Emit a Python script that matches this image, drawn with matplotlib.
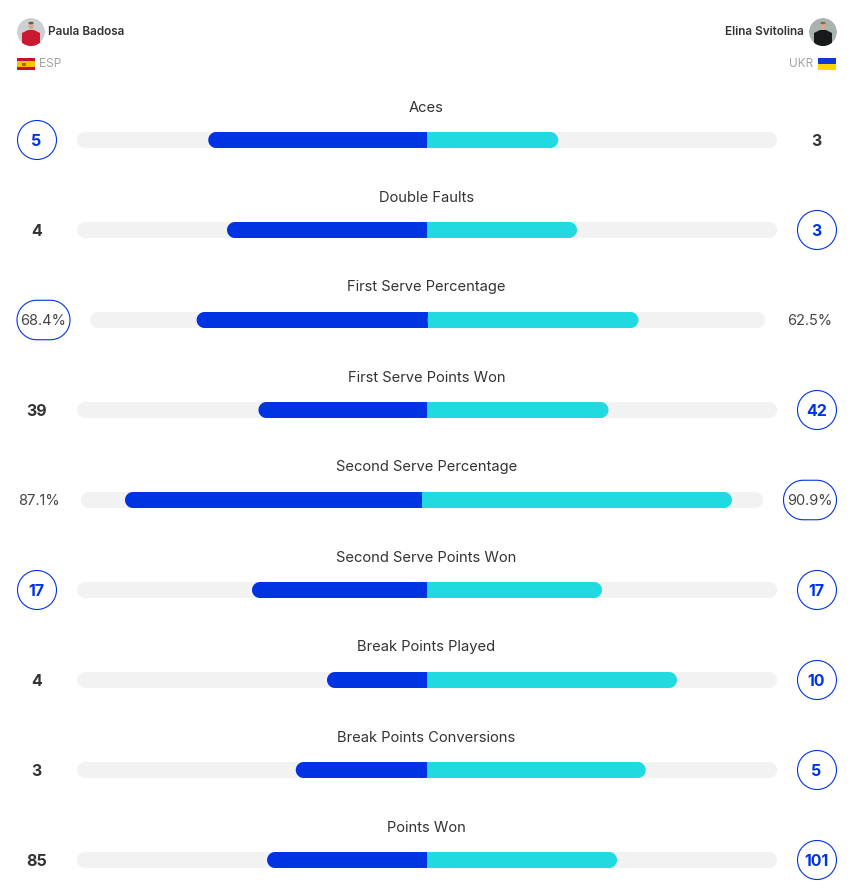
from matplotlib import pyplot as plt
from matplotlib.patches import Circle, Rectangle, Polygon, Ellipse
import numpy as np

plt.rcParams['font.family'] = ['Inter', 'DejaVu Sans']

# Chart values
stat_names = ['Aces', 'Double Faults', 'First Serve Percentage', 'First Serve Points Won',
              'Second Serve Percentage', 'Second Serve Points Won', 'Break Points Played',
              'Break Points Conversions', 'Points Won']
left_values = [5, 4, 68.4, 39, 87.1, 17, 4, 3, 85]
right_values = [3, 3, 62.5, 42, 90.9, 17, 10, 5, 101]
is_percent = [False, False, True, False, True, False, False, False, False]
left_circled = [True, False, True, False, False, True, False, False, False]
right_circled = [False, True, False, True, True, True, True, True, True]

# Layout in pixels
BLUE = '#0033E3'
CYAN = '#21DAE1'
TRACK = '#F2F2F2'
DARK = '#333333'
GREY = '#A3A3A3'
track_left = [77, 77, 90, 77, 81, 77, 77, 77, 77]
track_right = [777, 777, 765, 777, 763, 777, 777, 777, 777]
row_y = [140 + 90 * i for i in range(len(stat_names))]
BAR_H = 16
PX = 72 / 100  # pixels to points at dpi 100

fig = plt.figure(figsize=(8.61, 8.94), dpi=100)
ax = fig.add_axes([0, 0, 1, 1])
ax.set_xlim(0, 861)
ax.set_ylim(894, 0)
ax.axis('off')


def pill(x0, x1, y, h, **kw):
    # true half-circle ends, FancyBboxPatch corners come out too square
    r = h / 2
    t = np.linspace(-np.pi / 2, np.pi / 2, 40)
    xs = np.concatenate([x1 - r + r * np.cos(t), x0 + r - r * np.cos(t)])
    ys = np.concatenate([y + r * np.sin(t), y - r * np.sin(t)])
    ax.add_patch(Polygon(np.column_stack([xs, ys]), closed=True, **kw))


def filled_bar(x0, x1, y, color, round_left):
    # rounded at the outer end only, square where both bars meet
    pill(x0, x1, y, BAR_H, fc=color, ec='none', zorder=3)
    if round_left:
        ax.add_patch(Rectangle((x1 - BAR_H, y - BAR_H / 2), BAR_H, BAR_H, fc=color, ec='none', zorder=3))
    else:
        ax.add_patch(Rectangle((x0, y - BAR_H / 2), BAR_H, BAR_H, fc=color, ec='none', zorder=3))


def value_label(value, percent, circled, center, y):
    if percent:
        ax.text(center, y + 1, '%.1f%%' % value, ha='center', va='center', fontsize=14.6 * PX,
                color='#454545', zorder=5)
        if circled:
            pill(center - 26.5, center + 26.5, y, 39.5, fc='white', ec=BLUE, lw=0.8, zorder=2)
    elif circled:
        ax.add_patch(Circle((center + 0.5, y), 19.5, fc='white', ec=BLUE, lw=0.8, zorder=2))
        ax.text(center, y + 1, str(value), ha='center', va='center', fontsize=16 * PX,
                fontweight='bold', color=BLUE, zorder=5)
    else:
        ax.text(center, y + 1, str(value), ha='center', va='center', fontsize=16 * PX,
                fontweight='bold', color=DARK, zorder=5)


for i, name in enumerate(stat_names):
    y = row_y[i]
    x0, x1 = track_left[i], track_right[i]
    half = (x1 - x0) / 2
    mid = (x0 + x1) / 2
    if is_percent[i]:
        left_len = left_values[i] / 100 * half
        right_len = right_values[i] / 100 * half
    else:
        total = left_values[i] + right_values[i]
        left_len = left_values[i] / total * half
        right_len = right_values[i] / total * half

    ax.text(426.5, y - 32.5, name, ha='center', va='center', fontsize=14.7 * PX, color=DARK)
    pill(x0, x1, y, BAR_H, fc=TRACK, ec='none', zorder=1)
    filled_bar(mid - left_len, mid, y, BLUE, True)
    filled_bar(mid, mid + right_len, y, CYAN, False)

    left_center = 36.5
    right_center = 816.5
    if is_percent[i]:
        left_center = 43.5 if left_circled[i] else 38.5
        right_center = 810
    value_label(left_values[i], is_percent[i], left_circled[i], left_center, y)
    value_label(right_values[i], is_percent[i], right_circled[i], right_center, y)


def avatar(cx, cy, bg, body, hair):
    clip = Circle((cx, cy), 14, transform=ax.transData)
    parts = [
        Circle((cx, cy), 14, fc=bg, ec='none'),
        Polygon([(cx - 9, cy + 14), (cx - 9, cy + 1), (cx - 3, cy - 2), (cx + 3, cy - 2), (cx + 9, cy + 1), (cx + 9, cy + 14)],
                fc=body, ec='none'),
        Ellipse((cx, cy - 6), 5, 7, fc='#D9A78E', ec='none'),
        Ellipse((cx, cy - 9), 5.5, 2.5, fc=hair, ec='none'),
    ]
    for p in parts:
        ax.add_patch(p)
        p.set_clip_path(clip)


# Player header
avatar(31, 32, '#CDD0D3', '#C8192E', '#6B5A4A')
avatar(823, 32, '#A9B3B0', '#17191A', '#8A6A45')
ax.text(48, 32, 'Paula Badosa', ha='left', va='center', fontsize=11.8 * PX, fontweight='semibold', color=DARK)
ax.text(804, 32, 'Elina Svitolina', ha='right', va='center', fontsize=11.8 * PX, fontweight='semibold', color=DARK)
ax.text(39, 64, 'ESP', ha='left', va='center', fontsize=12 * PX, color=GREY)
ax.text(813, 64, 'UKR', ha='right', va='center', fontsize=11.8 * PX, color=GREY)

# Flags
ax.add_patch(Rectangle((17, 58), 18, 12, fc='#C8102E', ec='none'))
ax.add_patch(Rectangle((17, 61), 18, 6, fc='#F5C400', ec='none'))
ax.add_patch(Rectangle((22, 62.5), 3.5, 3.5, fc='#B5651D', ec='none'))
ax.add_patch(Rectangle((818, 58), 18, 6, fc='#0B3BD0', ec='none'))
ax.add_patch(Rectangle((818, 64), 18, 6, fc='#FFD500', ec='none'))

fig.savefig('out.png', dpi=100, facecolor='white')
